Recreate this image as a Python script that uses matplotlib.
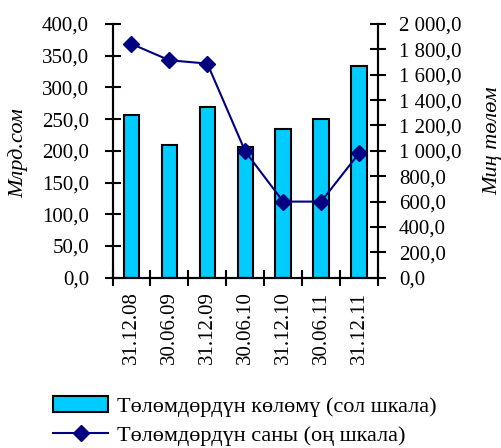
import matplotlib

matplotlib.use("Agg")
import matplotlib.pyplot as plt
from matplotlib.ticker import FuncFormatter

plt.rcParams["font.family"] = ["Liberation Serif", "DejaVu Serif"]

DATES = ["31.12.08", "30.06.09", "31.12.09", "30.06.10", "31.12.10", "30.06.11", "31.12.11"]
VOLUME = [256, 209, 269, 206, 235, 250, 334]          # bln som, left axis
COUNT = [1843, 1714, 1688, 995, 600, 600, 982]        # thousand payments, right axis

BAR_LABEL = "Төлөмдөрдүн көлөмү (сол шкала)"
LINE_LABEL = "Төлөмдөрдүн саны (оң шкала)"

FS = 15


def fmt(v, _pos):
    return f"{v:,.1f}".replace(",", " ").replace(".", ",")


fig = plt.figure(figsize=(5.01, 4.48), dpi=100)
ax = fig.add_axes([0.2246, 0.3801, 0.530, 0.5663])
ax2 = ax.twinx()

x = list(range(len(DATES)))
bars = ax.bar(x, VOLUME, width=0.41, color="#00CCFF", edgecolor="black", lw=1.5,
              label=BAR_LABEL)
line, = ax2.plot(x, COUNT, "-D", color="#000080", lw=1.5, ms=8.5, label=LINE_LABEL)

ax.set_xlim(-0.5, len(DATES) - 0.5)
ax.set_ylim(0, 400)
ax2.set_ylim(0, 2000)
ax.set_yticks(range(0, 401, 50))
ax2.set_yticks(range(0, 2001, 200))
ax.yaxis.set_major_formatter(FuncFormatter(fmt))
ax2.yaxis.set_major_formatter(FuncFormatter(fmt))

# category boundaries as major ticks, labels on minor ticks at centers
ax.set_xticks([i - 0.5 for i in range(len(DATES) + 1)])
ax.set_xticklabels([])
ax.set_xticks(x, minor=True)
ax.set_xticklabels(DATES, minor=True, rotation=90, fontsize=FS)
ax.tick_params(axis="x", which="minor", length=0, pad=10)
ax.tick_params(axis="x", which="major", direction="inout", length=11, width=1.5)

ax.tick_params(axis="y", direction="inout", length=12, width=1.5, labelsize=FS, pad=11)
ax2.tick_params(axis="y", direction="inout", length=12, width=1.5, labelsize=FS, pad=9)

for a in (ax, ax2):
    a.spines["top"].set_visible(False)
    for s in ("left", "right", "bottom"):
        a.spines[s].set_linewidth(1.5)

ax.set_ylabel("Млрд.сом", fontsize=16, style="italic")
ax.yaxis.set_label_coords(-0.318, 0.49)
ax2.set_ylabel("Миң төлөм", fontsize=16, style="italic", rotation=90)
ax2.yaxis.set_label_coords(1.395, 0.54)

fig.legend(handles=[bars, line], labels=[BAR_LABEL, LINE_LABEL],
           loc="upper left", bbox_to_anchor=(53 / 501, 1 - 396 / 448), frameon=False,
           fontsize=16, handlelength=2.48, handletextpad=0.4, labelspacing=0.38,
           borderpad=0, borderaxespad=0)

fig.savefig("out.png", dpi=100)
